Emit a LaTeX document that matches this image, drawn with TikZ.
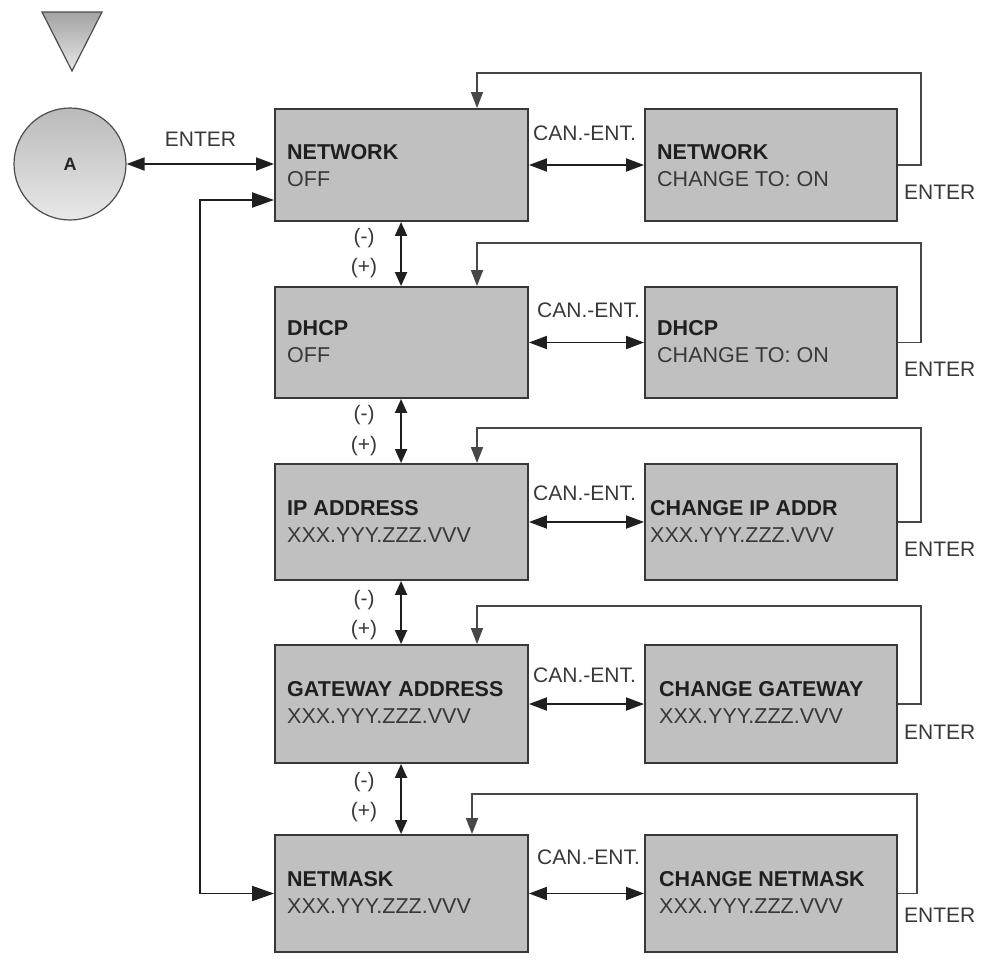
\documentclass[tikz,border=0pt]{standalone}
\usepackage{fontspec}
\setmainfont{Liberation Sans}
\usetikzlibrary{arrows.meta}
\definecolor{boxgray}{HTML}{C0C0C0}
\begin{document}
\begin{tikzpicture}[x=1pt,y=-1pt,
 box/.style={draw=black!78, line width=1.9pt, fill=boxgray, inner sep=0pt},
 lbox/.style={box, minimum width=253pt},
 rbox/.style={box, minimum width=252pt},
 title/.style={anchor=base west, inner sep=0pt, font=\bfseries\fontsize{21.5}{25}\selectfont, text=black!88},
 sub/.style={anchor=base west, inner sep=0pt, font=\fontsize{21.5}{25}\selectfont, text=black!78},
 lbl/.style={inner sep=0pt, font=\fontsize{21}{24}\selectfont, text=black!78},
 conn/.style={line width=1.9pt, draw=black!88},
 dbl/.style={conn, {Triangle[length=18pt,width=13pt]}-{Triangle[length=18pt,width=13pt]}},
 vdbl/.style={conn, {Triangle[length=14pt,width=12pt]}-{Triangle[length=14pt,width=12pt]}},
 lp/.style={line width=1.6pt, draw=black!72, -{Triangle[length=16pt,width=12pt]}},
 fb/.style={conn, {Triangle[length=22pt,width=15pt]}-{Triangle[length=22pt,width=15pt]}},
]
\useasboundingbox (0,0) rectangle (987,962);

% start triangle
\shade[top color=black!36, bottom color=black!10, draw=black!70, line width=1.2pt]
  (42,12) -- (102,12) -- (72,71) -- cycle;

% circle A
\node[circle, minimum size=112pt, inner sep=0pt, draw=black!70, line width=1.2pt,
  top color=black!27, bottom color=black!9, text=black!85,
  font=\bfseries\fontsize{18}{20}\selectfont] (A) at (70,164) {A};

% left column boxes
\node[lbox, minimum height=112pt] (n1) at (401.5,165) {};
\node[lbox, minimum height=111pt] (n2) at (401.5,342.5) {};
\node[lbox, minimum height=116pt] (n3) at (401.5,522) {};
\node[lbox, minimum height=118pt] (n4) at (401.5,704) {};
\node[lbox, minimum height=117pt] (n5) at (401.5,893.5) {};
% right column boxes
\node[rbox, minimum height=112pt] (r1) at (771,165) {};
\node[rbox, minimum height=111pt] (r2) at (771,342.5) {};
\node[rbox, minimum height=116pt] (r3) at (771,522) {};
\node[rbox, minimum height=118pt] (r4) at (771,704) {};
\node[rbox, minimum height=117pt] (r5) at (771,893.5) {};

% box texts
\node[title] (t1a) at (287,159) {NETWORK};
\node[sub]   (t1b) at (287,186) {OFF};
\node[title] (t2a) at (287,335) {DHCP};
\node[sub]   (t2b) at (287,362) {OFF};
\node[title] (t3a) at (287,515) {IP ADDRESS};
\node[sub]   (t3b) at (287,542) {XXX.YYY.ZZZ.VVV};
\node[title] (t4a) at (287,696) {GATEWAY ADDRESS};
\node[sub]   (t4b) at (287,723) {XXX.YYY.ZZZ.VVV};
\node[title] (t5a) at (287,886) {NETMASK};
\node[sub]   (t5b) at (287,913) {XXX.YYY.ZZZ.VVV};

\node[title] (s1a) at (657,159) {NETWORK};
\node[sub]   (s1b) at (657,186) {CHANGE TO: ON};
\node[title] (s2a) at (657,335) {DHCP};
\node[sub]   (s2b) at (657,362) {CHANGE TO: ON};
\node[title] (s3a) at (650,515) {CHANGE IP ADDR};
\node[sub]   (s3b) at (650,542) {XXX.YYY.ZZZ.VVV};
\node[title] (s4a) at (659,696) {CHANGE GATEWAY};
\node[sub]   (s4b) at (659,723) {XXX.YYY.ZZZ.VVV};
\node[title] (s5a) at (659,886) {CHANGE NETMASK};
\node[sub]   (s5b) at (659,913) {XXX.YYY.ZZZ.VVV};

% A <-> NETWORK
\draw[dbl] (A) -- (A -| n1.west);
\node[lbl] (le) at (200.5,139) {ENTER};

% feedback line
\coordinate (f1) at (200,200);
\draw[fb] (f1 -| n1.west) -- (f1) |- (n5.west);

% horizontal CAN.-ENT. arrows
\foreach \i in {1,...,5}{
  \draw[dbl] (n\i.east) -- (r\i.west);
}
\node[lbl, anchor=west] (c1) at (533,133) {CAN.-ENT.};
\node[lbl, anchor=west] (c2) at (537,310) {CAN.-ENT.};
\node[lbl, anchor=west] (c3) at (533,493) {CAN.-ENT.};
\node[lbl, anchor=west] (c4) at (533,675) {CAN.-ENT.};
\node[lbl, anchor=west] (c5) at (537,857) {CAN.-ENT.};

% vertical (-)/(+) arrows
\foreach \a/\b in {1/2,2/3,3/4,4/5}{
  \draw[vdbl] ([xshift=127pt]n\a.south west) -- ([xshift=127pt]n\b.north west);
}
\node[lbl] (m1) at (364,238) {(-)};
\node[lbl] (p1) at (364,268) {(+)};
\node[lbl] (m2) at (364,415) {(-)};
\node[lbl] (p2) at (364,446) {(+)};
\node[lbl] (m3) at (364,600) {(-)};
\node[lbl] (p3) at (364,630) {(+)};
\node[lbl] (m4) at (364,782) {(-)};
\node[lbl] (p4) at (364,812) {(+)};

% ENTER loops
\coordinate (k1) at (921,73);
\coordinate (k2) at (921,243);
\coordinate (k3) at (921,428);
\coordinate (k4) at (921,606);
\coordinate (k5) at (917,794);
\coordinate (e1) at (477,73);
\coordinate (e2) at (477,243);
\coordinate (e3) at (477,428);
\coordinate (e4) at (477,606);
\coordinate (e5) at (472,794);
\foreach \i in {1,...,5}{
  \draw[lp] (r\i.east) -| (k\i) -- (e\i) -- (e\i |- n\i.north);
}
\node[lbl, anchor=west] (x1) at (904,192) {ENTER};
\node[lbl, anchor=west] (x2) at (904,369) {ENTER};
\node[lbl, anchor=west] (x3) at (904,549) {ENTER};
\node[lbl, anchor=west] (x4) at (904,732) {ENTER};
\node[lbl, anchor=west] (x5) at (904,915) {ENTER};
\end{tikzpicture}
\end{document}
